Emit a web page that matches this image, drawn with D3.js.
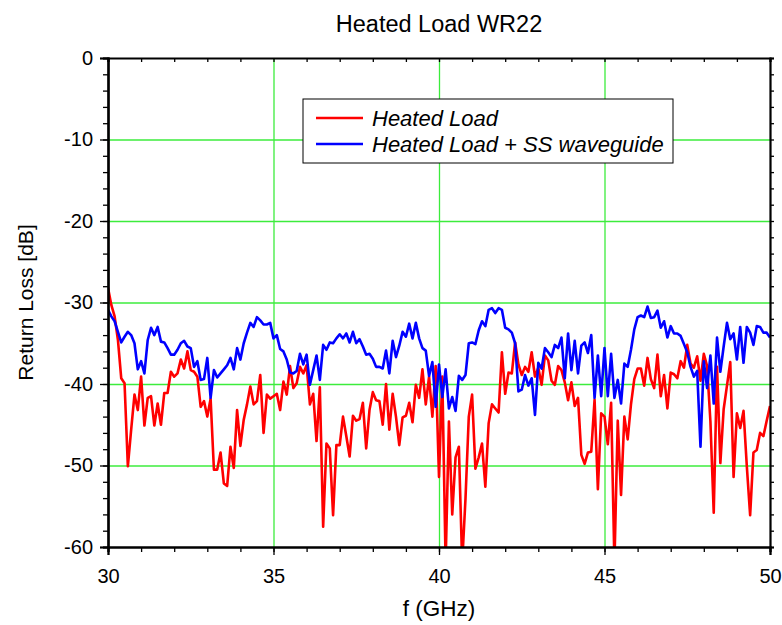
<!DOCTYPE html>
<html>
<head>
<meta charset="utf-8">
<script src="https://cdn.jsdelivr.net/npm/d3@7"></script>
<style>
  html, body { margin: 0; padding: 0; background: #fff; }
  text { font-family: "Liberation Sans", Arial, sans-serif; }
</style>
</head>
<body>
<div id="chart"></div>
<script>
// sweep grid, 30 to 50 GHz in 0.1 GHz steps
const freqGHz = d3.range(201).map((i) => +(30 + i * 0.1).toFixed(1));

// return loss of the heated load alone [dB]
const heatedLoad = [
	-28.2, -30.3, -31.7, -34.6, -39.3, -39.9, -50.1, -45.6, -41.3, -43.2,
	-39.1, -45.1, -41.7, -41.5, -45.1, -42.4, -45.0, -41.1, -41.1, -38.5,
	-39.1, -38.7, -37.0, -38.1, -36.0, -38.3, -38.5, -39.1, -42.8, -42.1,
	-44.0, -41.8, -50.5, -50.5, -48.4, -52.2, -52.5, -47.7, -50.3, -43.2,
	-47.6, -44.4, -42.5, -40.3, -42.5, -42.1, -38.9, -46.0, -41.3, -41.8,
	-41.5, -41.2, -43.2, -39.7, -41.3, -37.8, -40.5, -39.9, -37.9, -38.7,
	-37.7, -42.5, -41.2, -47.0, -40.4, -57.5, -47.3, -47.9, -56.1, -47.5,
	-47.5, -44.0, -46.4, -48.9, -43.9, -44.5, -44.3, -42.3, -47.9, -43.2,
	-41.0, -42.0, -42.1, -45.0, -40.0, -45.6, -41.2, -44.0, -47.5, -44.1,
	-43.9, -42.3, -44.7, -40.1, -41.7, -38.2, -42.5, -39.1, -44.0, -37.8,
	-51.4, -39.1, -62.0, -44.6, -56.0, -49.0, -47.7, -62.0, -54.1, -44.0,
	-41.3, -50.4, -49.0, -47.3, -52.6, -44.8, -42.5, -43.0, -43.5, -36.1,
	-41.2, -38.6, -38.7, -34.9, -37.6, -38.9, -37.9, -38.5, -36.1, -39.1,
	-38.0, -40.1, -36.5, -37.1, -39.6, -40.1, -37.8, -38.3, -39.8, -42.0,
	-39.8, -42.7, -41.7, -48.7, -49.8, -48.4, -48.3, -41.9, -52.9, -43.6,
	-44.0, -47.4, -42.3, -62.0, -44.5, -53.6, -44.0, -46.8, -42.5, -39.4,
	-38.1, -38.1, -40.2, -36.8, -39.4, -40.5, -36.4, -41.5, -38.9, -43.0,
	-38.6, -38.8, -39.3, -37.2, -38.0, -35.2, -37.5, -38.0, -36.6, -39.6,
	-36.3, -37.8, -44.6, -55.8, -37.9, -49.7, -43.1, -40.2, -37.3, -51.4,
	-43.6, -45.4, -43.3, -50.1, -56.1, -48.4, -48.1, -46.0, -46.4, -44.5,
	-42.7
];

// heated load behind the stainless steel waveguide section [dB]
const heatedLoadSS = [
	-30.9, -31.7, -32.3, -33.6, -34.9, -34.2, -33.6, -34.0, -35.0, -38.2,
	-37.2, -38.7, -34.6, -33.1, -34.0, -33.0, -34.8, -34.9, -35.6, -36.4,
	-36.4, -35.8, -35.0, -34.7, -35.4, -35.6, -37.9, -37.2, -39.5, -39.4,
	-36.8, -41.7, -38.3, -39.2, -38.7, -38.2, -37.7, -36.8, -38.2, -35.6,
	-37.0, -35.0, -33.7, -32.5, -33.0, -31.8, -32.2, -32.7, -32.7, -32.5,
	-34.4, -34.0, -35.7, -36.0, -37.0, -38.6, -38.7, -38.4, -36.3, -37.6,
	-36.4, -40.1, -38.3, -36.5, -39.5, -35.2, -35.8, -34.9, -35.0, -34.4,
	-33.9, -34.4, -33.8, -34.9, -33.6, -35.0, -34.5, -35.4, -36.4, -36.3,
	-36.9, -37.9, -37.9, -38.1, -35.9, -38.7, -34.7, -36.7, -35.3, -33.6,
	-34.2, -32.6, -34.4, -32.5, -34.4, -35.6, -35.9, -39.0, -37.3, -42.8,
	-37.6, -41.6, -38.2, -43.0, -41.6, -43.3, -39.0, -39.5, -38.9, -35.0,
	-34.9, -35.1, -33.4, -32.3, -32.9, -30.9, -30.7, -31.3, -30.7, -30.9,
	-33.1, -33.3, -33.7, -35.0, -40.9, -40.7, -38.9, -40.2, -39.3, -43.8,
	-37.4, -38.1, -35.6, -36.1, -36.7, -35.2, -35.6, -34.3, -39.3, -33.8,
	-38.3, -34.7, -38.7, -35.3, -34.9, -36.2, -34.0, -41.7, -36.5, -41.5,
	-35.6, -41.5, -36.3, -41.7, -39.5, -42.4, -37.5, -37.9, -35.8, -33.3,
	-31.8, -31.6, -31.8, -30.5, -31.9, -31.8, -31.0, -33.1, -32.3, -34.3,
	-32.9, -33.8, -33.8, -34.1, -35.1, -36.1, -37.9, -39.1, -38.4, -47.7,
	-37.2, -40.5, -36.5, -42.4, -34.3, -38.5, -35.4, -32.5, -34.5, -33.8,
	-37.0, -33.0, -37.4, -33.0, -33.7, -35.2, -32.9, -33.0, -33.7, -33.7,
	-34.3
];

const seriesNames = ["Heated Load", "Heated Load + SS waveguide"];
const seriesColors = ["#ff0000", "#0000ff"];
const xTicks = [30, 35, 40, 45, 50];
const yTicks = [0, -10, -20, -30, -40, -50, -60];

const width = 782;
const height = 625;
const margin = { top: 58, right: 12, bottom: 78, left: 108 };
const innerW = width - margin.left - margin.right;
const innerH = height - margin.top - margin.bottom;
const gridColor = "#3cec3c";

const svg = d3.select("#chart").append("svg")
	.attr("width", width)
	.attr("height", height);

const g = svg.append("g").attr("transform", `translate(${margin.left},${margin.top})`);

const x = d3.scaleLinear().domain([30, 50]).range([0, innerW]);
const y = d3.scaleLinear().domain([-60, 0]).range([innerH, 0]);

svg.append("defs").append("clipPath").attr("id", "plot-clip")
	.append("rect").attr("width", innerW).attr("height", innerH);

// green grid at the major ticks
g.append("g")
	.selectAll("line")
	.data(xTicks.slice(1, -1))
	.join("line")
	.attr("x1", (d) => x(d) + 0.5).attr("x2", (d) => x(d) + 0.5)
	.attr("y1", 0).attr("y2", innerH)
	.attr("stroke", gridColor).attr("stroke-width", 1.3);

g.append("g")
	.selectAll("line")
	.data(yTicks.slice(1, -1))
	.join("line")
	.attr("x1", 0).attr("x2", innerW)
	.attr("y1", (d) => y(d) + 0.5).attr("y2", (d) => y(d) + 0.5)
	.attr("stroke", gridColor).attr("stroke-width", 1.3);

// data lines, blue on top
const line = d3.line()
	.x((d, i) => x(freqGHz[i]))
	.y((d) => y(d));

const lines = g.append("g").attr("clip-path", "url(#plot-clip)");
[heatedLoad, heatedLoadSS].forEach((vals, k) => {
	lines.append("path")
		.datum(vals)
		.attr("fill", "none")
		.attr("stroke", seriesColors[k])
		.attr("stroke-width", 2.6)
		.attr("stroke-linejoin", "round")
		.attr("d", line);
});

// axes: labelled bottom/left, mirrored ticks top/right
const minorX = d3.range(30, 51, 1);
const minorY = d3.range(-60, 1, 2);
const plain = (d) => String(d); // hyphen minus, not U+2212

const xAxis = g.append("g").attr("transform", `translate(0,${innerH})`)
	.call(d3.axisBottom(x).tickValues(xTicks).tickSize(8).tickPadding(14).tickFormat(plain));
const xMinor = g.append("g").attr("transform", `translate(0,${innerH})`)
	.call(d3.axisBottom(x).tickValues(minorX).tickSize(5).tickFormat(""));

const yAxis = g.append("g")
	.call(d3.axisLeft(y).tickValues(yTicks).tickSize(8).tickPadding(7).tickFormat(plain));
const yMinor = g.append("g")
	.call(d3.axisLeft(y).tickValues(minorY).tickSize(5).tickFormat(""));

const topAxis = g.append("g")
	.call(d3.axisBottom(x).tickValues(minorX).tickSize(4).tickFormat(""));
const rightAxis = g.append("g").attr("transform", `translate(${innerW},0)`)
	.call(d3.axisRight(y).tickValues(minorY).tickSize(4).tickFormat(""));

[xAxis, xMinor, yAxis, yMinor, topAxis, rightAxis].forEach((a) => {
	a.select(".domain").attr("stroke", "#000").attr("stroke-width", 2.2);
	a.selectAll(".tick line").attr("stroke", "#000").attr("stroke-width", 1.3);
	a.selectAll(".tick text").attr("font-size", 20).attr("fill", "#000")
		.attr("font-family", "Liberation Sans, Arial, sans-serif");
});

// titles
svg.append("text")
	.attr("x", margin.left + innerW / 2)
	.attr("y", 32)
	.attr("text-anchor", "middle")
	.attr("font-size", 23.5)
	.text("Heated Load WR22");

svg.append("text")
	.attr("x", margin.left + innerW / 2)
	.attr("y", 616)
	.attr("text-anchor", "middle")
	.attr("font-size", 22.5)
	.text("f (GHz)");

svg.append("text")
	.attr("transform", `translate(33,${margin.top + innerH / 2}) rotate(-90)`)
	.attr("text-anchor", "middle")
	.attr("font-size", 21)
	.text("Return Loss [dB]");

// legend
const legend = svg.append("g").attr("transform", "translate(303,99)");
legend.append("rect")
	.attr("width", 370).attr("height", 64)
	.attr("fill", "#fff").attr("stroke", "#000").attr("stroke-width", 1);

legend.selectAll("g.item")
	.data(seriesNames)
	.join("g")
	.attr("class", "item")
	.attr("transform", (d, i) => `translate(0,${19 + i * 26})`)
	.call((sel) => sel.append("line")
		.attr("x1", 13).attr("x2", 60)
		.attr("stroke", (d, i) => seriesColors[i])
		.attr("stroke-width", 2.6))
	.call((sel) => sel.append("text")
		.attr("x", 69).attr("y", 7.5)
		.attr("font-size", 22)
		.attr("font-style", "italic")
		.text((d) => d));
</script>
</body>
</html>
